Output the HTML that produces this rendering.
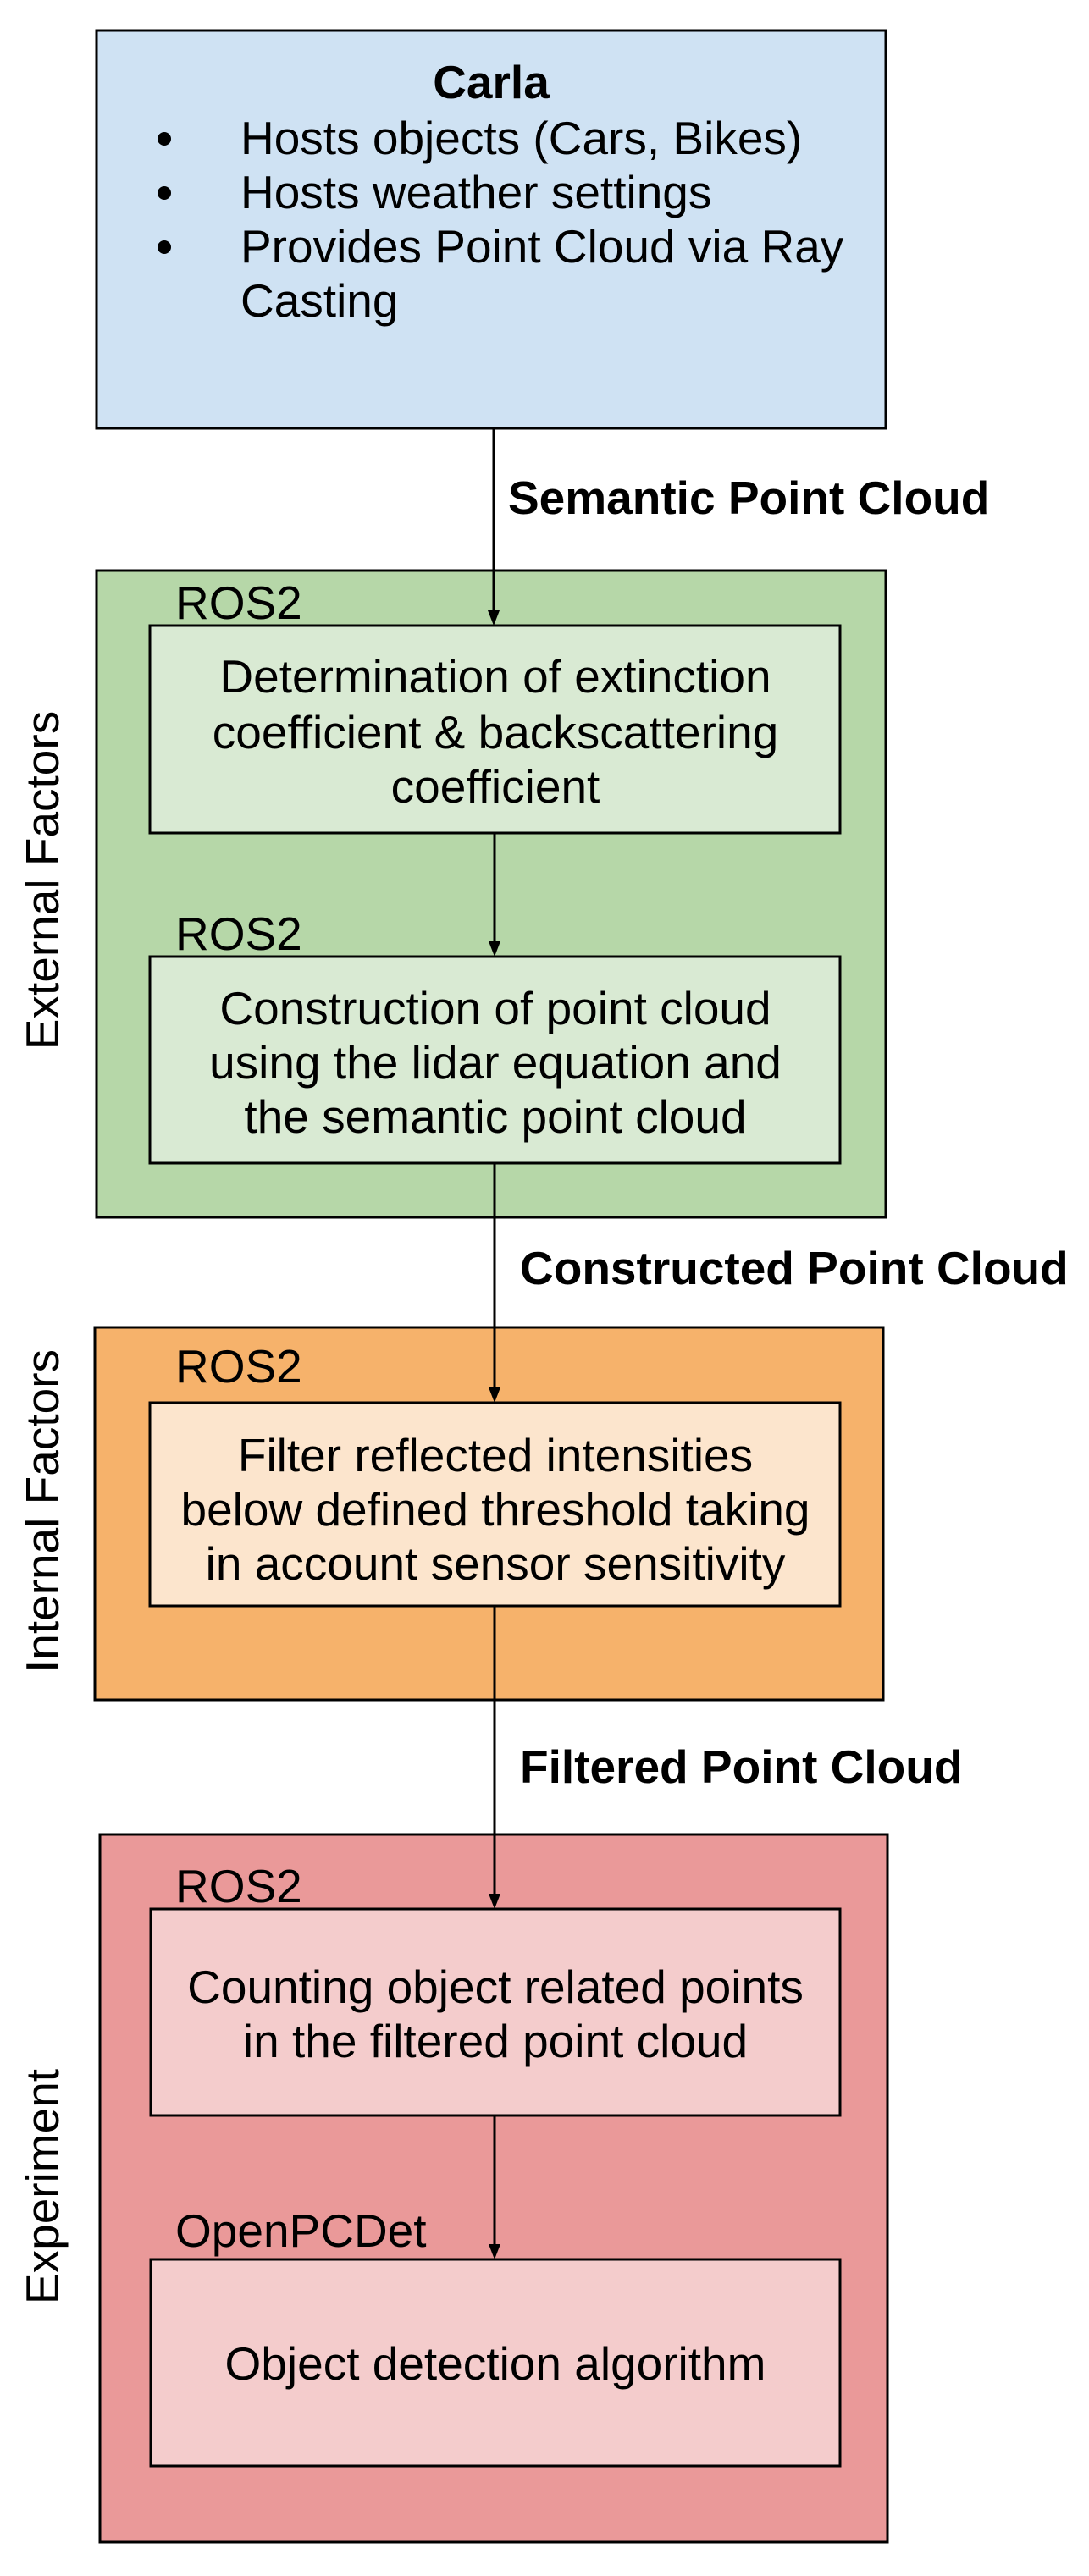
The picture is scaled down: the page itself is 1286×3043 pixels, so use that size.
<!DOCTYPE html>
<html><head><meta charset="utf-8"><style>html,body{margin:0;padding:0;background:#fff}svg{display:block}</style></head>
<body>
<svg width="1286" height="3043" viewBox="0 0 1286 3043" xmlns="http://www.w3.org/2000/svg" font-family="Liberation Sans, Arial, sans-serif" font-size="55">
<g stroke="#000" stroke-width="3">
<rect x="114" y="36" width="932" height="470" fill="#cfe2f3"/>
<rect x="114" y="674" width="932" height="764" fill="#b6d7a8"/>
<rect x="177" y="739" width="815" height="245" fill="#d9ead3"/>
<rect x="177" y="1130" width="815" height="244" fill="#d9ead3"/>
<rect x="112" y="1568" width="931" height="440" fill="#f6b26b"/>
<rect x="177" y="1657" width="815" height="240" fill="#fce5cd"/>
<rect x="118" y="2167" width="930" height="836" fill="#ea9999"/>
<rect x="178" y="2255" width="814" height="244" fill="#f4cccc"/>
<rect x="178" y="2669" width="814" height="244" fill="#f4cccc"/>
</g>
<g stroke="#000" stroke-width="3" fill="none">
<line x1="583" y1="506" x2="583" y2="722"/>
<line x1="584" y1="984" x2="584" y2="1113"/>
<line x1="584" y1="1374" x2="584" y2="1640"/>
<line x1="584" y1="1897" x2="584" y2="2238"/>
<line x1="584" y1="2499" x2="584" y2="2652"/>
</g>
<g fill="#000">
<path d="M576,721 L590,721 L583,739 Z"/>
<path d="M577,1112 L591,1112 L584,1130 Z"/>
<path d="M577,1639 L591,1639 L584,1657 Z"/>
<path d="M577,2237 L591,2237 L584,2255 Z"/>
<path d="M577,2651 L591,2651 L584,2669 Z"/>
<circle cx="194" cy="164" r="8"/>
<circle cx="194" cy="228" r="8"/>
<circle cx="194" cy="292" r="8"/>
</g>
<g fill="#000">
<text x="580" y="116" text-anchor="middle" font-weight="bold">Carla</text>
<text x="284" y="182">Hosts objects (Cars, Bikes)</text>
<text x="284" y="246">Hosts weather settings</text>
<text x="284" y="310">Provides Point Cloud via Ray</text>
<text x="284" y="374">Casting</text>
<text x="600" y="607" font-weight="bold">Semantic Point Cloud</text>
<text x="614" y="1517" font-weight="bold">Constructed Point Cloud</text>
<text x="614" y="2106" font-weight="bold">Filtered Point Cloud</text>
<text x="207" y="731">ROS2</text>
<text x="207" y="1122">ROS2</text>
<text x="207" y="1633">ROS2</text>
<text x="207" y="2247">ROS2</text>
<text x="207" y="2654">OpenPCDet</text>
<g text-anchor="middle">
<text x="585" y="818">Determination of extinction</text>
<text x="585" y="884">coefficient &amp; backscattering</text>
<text x="585" y="948">coefficient</text>
<text x="585" y="1210">Construction of point cloud</text>
<text x="585" y="1274">using the lidar equation and</text>
<text x="585" y="1338">the semantic point cloud</text>
<text x="585" y="1738">Filter reflected intensities</text>
<text x="585" y="1802">below defined threshold taking</text>
<text x="585" y="1866">in account sensor sensitivity</text>
<text x="585" y="2366">Counting object related points</text>
<text x="585" y="2430">in the filtered point cloud</text>
<text x="585" y="2811">Object detection algorithm</text>
<text transform="translate(69 1040) rotate(-90)">External Factors</text>
<text transform="translate(69 1785) rotate(-90)">Internal Factors</text>
<text transform="translate(69 2583) rotate(-90)">Experiment</text>
</g>
</g>
</svg>
</body></html>
